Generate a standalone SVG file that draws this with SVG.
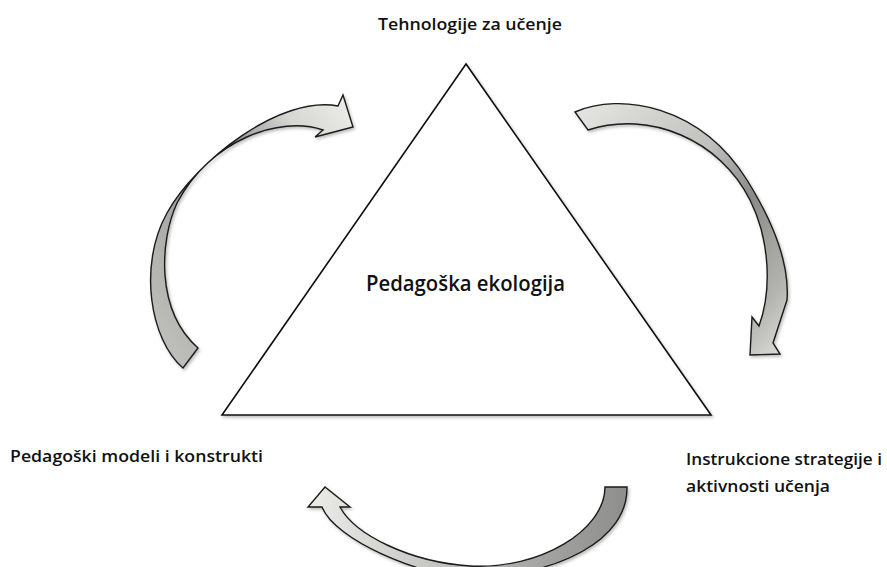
<svg xmlns="http://www.w3.org/2000/svg" width="887" height="567" viewBox="0 0 887 567">
  <style>
    .lbl { font-family: "Open Sans", "Liberation Sans", sans-serif; font-size: 16px; font-weight: 600; fill: #111; }
    .ctr { font-family: "Open Sans", "Liberation Sans", sans-serif; font-size: 21px; font-weight: 600; fill: #111; }
    .arrow { stroke: #1a1a1a; stroke-width: 1.4; stroke-linejoin: miter; filter: url(#sh); }
    .tri { fill: #fff; stroke: #111; stroke-width: 1.6; filter: url(#sh); }
  </style>
  <defs>
    <filter id="sh" x="-10%" y="-10%" width="130%" height="130%">
      <feDropShadow dx="1.5" dy="2" stdDeviation="1.5" flood-color="#000" flood-opacity="0.25"/>
    </filter>
    <linearGradient id="gL" x1="0" y1="1" x2="1" y2="0">
      <stop offset="0" stop-color="#c4c4c0"/>
      <stop offset="0.35" stop-color="#a8a8a6"/>
      <stop offset="0.55" stop-color="#7c7c7a"/>
      <stop offset="0.8" stop-color="#d6d6d2"/>
      <stop offset="1" stop-color="#efefeb"/>
    </linearGradient>
    <linearGradient id="gR" x1="0" y1="0" x2="1" y2="1">
      <stop offset="0" stop-color="#e6e6e2"/>
      <stop offset="0.4" stop-color="#c0c0bc"/>
      <stop offset="0.6" stop-color="#8a8a88"/>
      <stop offset="0.85" stop-color="#b4b4b0"/>
      <stop offset="1" stop-color="#e0e0dc"/>
    </linearGradient>
    <linearGradient id="gB" x1="1" y1="0" x2="0" y2="0">
      <stop offset="0" stop-color="#8e8e8c"/>
      <stop offset="0.3" stop-color="#a6a6a4"/>
      <stop offset="0.7" stop-color="#cfcfcb"/>
      <stop offset="1" stop-color="#ececE8"/>
    </linearGradient>
  </defs>

  <g id="connectors">
    <path id="arrow-left" class="arrow" fill="url(#gL)"
      d="M 183,368 C 150,340 138,265 167,213 C 196,161 280,95 338,106 L 343,95 L 353,127 L 315,137 L 323,130 C 280,115 210,140 177,203 C 160,240 155,310 198,348 Z"/>
    <path id="arrow-right" class="arrow" fill="url(#gR)"
      d="M 575,112 C 620,92 700,105 747,180 C 770,217 790,260 787,300 L 773,343 L 780,354 L 750,355 L 752,317 L 759,326 C 772,290 770,240 750,200 C 720,140 650,110 588,130 Z"/>
    <path id="arrow-bottom" class="arrow" fill="url(#gB)"
      d="M 605,487 L 627,487 C 628,540 560,575 470,578 C 420,576 335,540 322,507 L 308,507 L 325,487 L 350,507 L 340,507 C 355,535 410,562 470,566 C 540,570 605,530 605,487 Z"/>
  </g>

  <g id="node-ecology">
    <polygon class="tri" points="466,64 222,415 711,415"/>
    <text class="ctr" x="366" y="291" textLength="199" lengthAdjust="spacingAndGlyphs">Pedagoška ekologija</text>
  </g>

  <g id="node-technology">
    <text class="lbl" x="378" y="29.5" textLength="184" lengthAdjust="spacingAndGlyphs">Tehnologije za učenje</text>
  </g>

  <g id="node-models">
    <text class="lbl" x="10" y="462" textLength="253" lengthAdjust="spacingAndGlyphs">Pedagoški modeli i konstrukti</text>
  </g>

  <g id="node-strategies">
    <text class="lbl" x="686" y="465" textLength="196" lengthAdjust="spacingAndGlyphs">Instrukcione strategije i</text>
    <text class="lbl" x="686" y="492" textLength="144" lengthAdjust="spacingAndGlyphs">aktivnosti učenja</text>
  </g>
</svg>
